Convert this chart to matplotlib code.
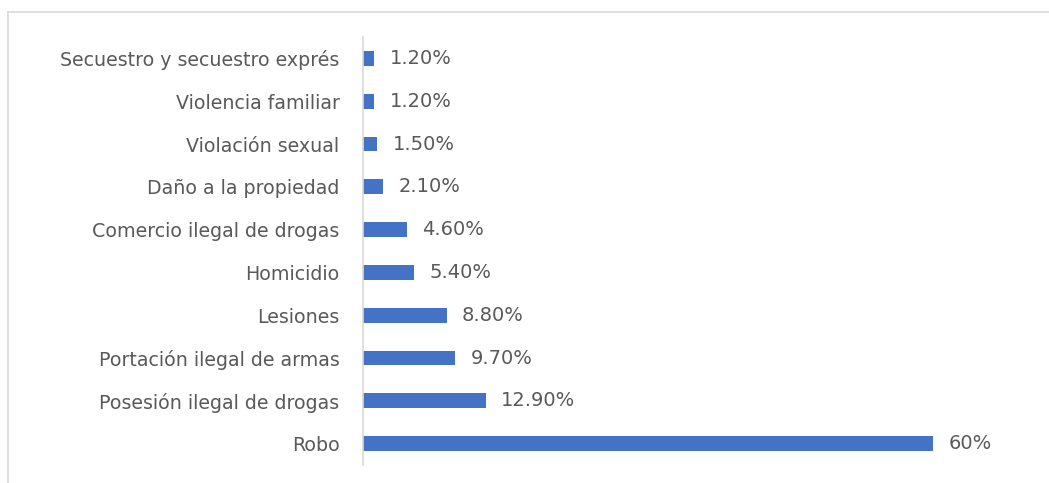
import matplotlib
matplotlib.use("Agg")
import matplotlib.pyplot as plt
from matplotlib.lines import Line2D

categories = ["Secuestro y secuestro exprés", "Violencia familiar", "Violación sexual",
              "Daño a la propiedad", "Comercio ilegal de drogas", "Homicidio", "Lesiones",
              "Portación ilegal de armas", "Posesión ilegal de drogas", "Robo"]
values = [1.2, 1.2, 1.5, 2.1, 4.6, 5.4, 8.8, 9.7, 12.9, 60]
value_labels = ["1.20%", "1.20%", "1.50%", "2.10%", "4.60%", "5.40%", "8.80%",
                "9.70%", "12.90%", "60%"]

plt.rcParams["font.family"] = ["DejaVu Sans"]

W, H = 1049, 483
fig = plt.figure(figsize=(W / 100, H / 100), dpi=100)
fig.patch.set_facecolor("white")

# chart border (top and left visible)
fig.add_artist(Line2D([8 / W, 1.0], [1 - 12 / H, 1 - 12 / H], color="#d9d9d9", lw=1.2, transform=fig.transFigure))
fig.add_artist(Line2D([8 / W, 8 / W], [0, 1 - 12 / H], color="#d9d9d9", lw=1.2, transform=fig.transFigure))

left_px, right_px = 363, 1028
top_px, bot_px = 37, 465
ax = fig.add_axes([left_px / W, 1 - bot_px / H, (right_px - left_px) / W, (bot_px - top_px) / H])

y = list(range(len(categories)))
ax.barh(y, values, height=0.35, color="#4472c4")
ax.set_ylim(len(categories) - 0.5, -0.5)
ax.set_xlim(0, 70)
ax.set_yticks(y)
ax.set_yticklabels(categories, fontsize=13.7, color="#595959")
ax.tick_params(axis="y", length=0, pad=17)
ax.set_xticks([])
for s in ["top", "right", "bottom"]:
    ax.spines[s].set_visible(False)
ax.spines["left"].set_color("#d9d9d9")
ax.spines["left"].set_linewidth(1.2)

for yi, v, lab in zip(y, values, value_labels):
    ax.annotate(lab, (v, yi), xytext=(11, 0), textcoords="offset points",
                va="center", ha="left", fontsize=14, color="#595959")

fig.savefig("out.png", dpi=100, facecolor="white")
